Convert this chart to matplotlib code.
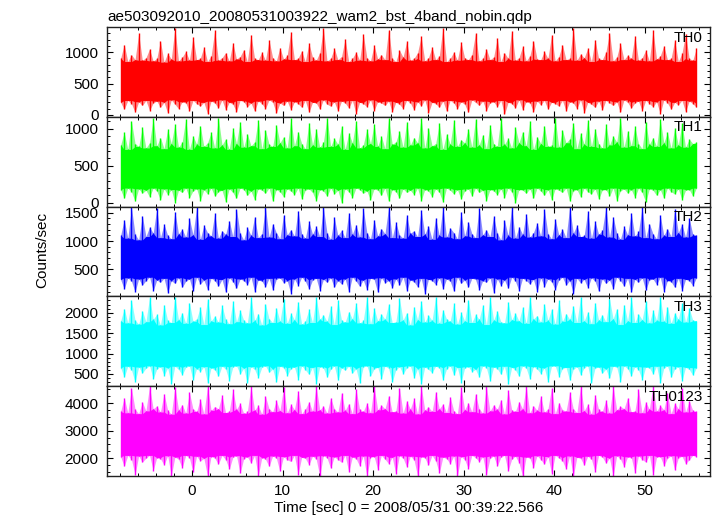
import matplotlib
matplotlib.use("Agg")
import matplotlib.pyplot as plt
import numpy as np
from matplotlib.ticker import MultipleLocator

plt.rcParams['font.family'] = ['Liberation Sans', 'DejaVu Sans']
plt.rcParams['font.size'] = 11

# time span covered by the light curves (sec from 00:39:22.566)
t_start = -7.9
t_stop = 55.7

# upper / lower envelope of each band's count rate (counts/sec)
# in 160 equal time slices
th0_hi = [
    900, 1120, 850, 960, 880, 1300, 870, 910, 1050, 860, 900, 1180, 840, 980, 890, 1390,
    860, 920, 1010, 870, 1240, 880, 900, 1080, 850, 940, 1350, 870, 910, 990, 860, 1150,
    890, 930, 1040, 850, 1280, 900, 880, 1000, 870, 1190, 910, 860, 1070, 890, 950, 1320,
    880, 900, 1020, 850, 1140, 920, 870, 990, 1380, 860, 900, 1060, 880, 930, 1210, 850,
    900, 1000, 870, 1290, 910, 860, 1110, 890, 960, 880, 1360, 900, 850, 1030, 920, 1170,
    870, 900, 990, 1250, 860, 910, 1080, 880, 940, 1390, 850, 900, 1000, 870, 1160, 910,
    880, 960, 1300, 860, 900, 1050, 880, 920, 1220, 850, 990, 900, 1340, 870, 910, 1090,
    860, 940, 1180, 890, 880, 1010, 900, 1270, 860, 930, 1120, 880, 900, 1380, 870, 970,
    910, 1060, 850, 1200, 900, 880, 1000, 1310, 860, 920, 1140, 880, 950, 900, 1260, 870,
    910, 1030, 860, 1350, 890, 940, 1100, 880, 900, 1190, 850, 980, 1290, 900, 870, 1070,
]
th0_lo = [
    200, 90, 230, 180, 40, 210, 150, 230, 70, 190, 220, 120, 200, 30, 240, 170,
    100, 210, 190, 60, 230, 180, 140, 200, 20, 220, 190, 110, 240, 80, 200, 170,
    50, 230, 210, 130, 190, 60, 220, 180, 100, 240, 200, 30, 190, 150, 220, 80,
    210, 180, 120, 230, 40, 200, 190, 90, 240, 170, 140, 210, 60, 220, 190, 110,
    230, 20, 200, 180, 130, 240, 70, 210, 190, 150, 220, 50, 200, 170, 100, 230,
    190, 80, 210, 140, 240, 30, 200, 180, 120, 220, 60, 230, 190, 100, 210, 170,
    40, 240, 200, 150, 220, 70, 190, 210, 130, 230, 10, 200, 180, 110, 240, 80,
    210, 190, 50, 220, 160, 230, 90, 200, 180, 140, 230, 60, 210, 190, 100, 240,
    30, 200, 170, 120, 220, 80, 230, 190, 150, 210, 40, 240, 200, 110, 190, 220,
    70, 230, 180, 130, 210, 20, 240, 190, 90, 200, 160, 230, 50, 220, 180, 120,
]
th1_hi = [
    780, 950, 720, 1100, 800, 760, 1020, 740, 810, 1140, 770, 880, 730, 990, 800, 1060,
    750, 820, 1130, 720, 900, 790, 1040, 760, 810, 950, 740, 1150, 780, 860, 720, 1010,
    800, 1090, 750, 930, 770, 820, 1120, 730, 980, 790, 760, 1050, 810, 890, 740, 1140,
    770, 960, 800, 730, 1080, 780, 1000, 750, 820, 1150, 760, 870, 790, 1030, 720, 940,
    810, 1110, 740, 780, 990, 800, 1060, 760, 900, 730, 1140, 790, 820, 970, 750, 1090,
    780, 880, 810, 1150, 740, 1010, 770, 800, 1070, 720, 930, 790, 1120, 760, 850, 810,
    1000, 750, 1130, 780, 920, 730, 1050, 800, 760, 1150, 790, 870, 740, 1020, 810, 960,
    770, 1100, 720, 890, 800, 1040, 760, 780, 1140, 750, 980, 810, 860, 1080, 730, 940,
    790, 1120, 760, 1000, 800, 740, 1060, 780, 900, 820, 1150, 750, 970, 770, 1030, 800,
    730, 1090, 790, 880, 760, 1130, 810, 950, 740, 1010, 780, 1070, 750, 860, 800, 820,
]
th1_lo = [
    180, 60, 200, 150, 20, 190, 130, 170, 80, 200, 160, 40, 190, 110, 180, 0,
    170, 140, 200, 70, 160, 190, 30, 180, 120, 200, 90, 150, 170, 10, 190, 140,
    60, 200, 180, 100, 160, 40, 190, 170, 130, 200, 20, 180, 150, 80, 190, 160,
    110, 200, 50, 170, 190, 140, 30, 180, 160, 90, 200, 120, 170, 0, 190, 150,
    70, 200, 180, 130, 160, 40, 190, 170, 100, 200, 20, 180, 150, 60, 190, 140,
    170, 110, 200, 30, 180, 160, 80, 190, 140, 10, 200, 170, 120, 180, 50, 160,
    190, 90, 200, 140, 170, 30, 180, 160, 110, 190, 70, 200, 150, 0, 180, 170,
    130, 190, 60, 200, 160, 100, 180, 40, 190, 170, 140, 200, 20, 160, 180, 80,
    200, 150, 120, 190, 50, 170, 180, 90, 200, 30, 160, 190, 130, 180, 70, 200,
    140, 10, 190, 170, 100, 180, 60, 200, 150, 120, 190, 40, 170, 180, 90, 200,
]
th2_hi = [
    1100, 1380, 1050, 1600, 1120, 1020, 1450, 1080, 1250, 1140, 1580, 1060, 1300, 1100, 1040, 1520,
    1130, 1210, 1070, 1400, 1110, 1600, 1030, 1280, 1150, 1090, 1490, 1050, 1180, 1120, 1360, 1080,
    1560, 1140, 1020, 1240, 1100, 1430, 1060, 1130, 1600, 1070, 1310, 1150, 1040, 1470, 1110, 1200,
    1090, 1540, 1130, 1050, 1350, 1120, 1260, 1080, 1600, 1140, 1030, 1420, 1100, 1190, 1060, 1500,
    1120, 1290, 1070, 1580, 1150, 1040, 1380, 1090, 1220, 1130, 1600, 1060, 1330, 1110, 1050, 1460,
    1140, 1180, 1080, 1550, 1120, 1270, 1030, 1410, 1100, 1600, 1070, 1230, 1150, 1040, 1510, 1090,
    1340, 1130, 1060, 1590, 1110, 1200, 1080, 1440, 1140, 1020, 1370, 1100, 1600, 1050, 1250, 1120,
    1480, 1070, 1150, 1320, 1090, 1570, 1130, 1040, 1390, 1110, 1210, 1060, 1600, 1140, 1280, 1080,
    1100, 1530, 1050, 1350, 1120, 1190, 1600, 1070, 1430, 1140, 1030, 1260, 1110, 1500, 1090, 1170,
    1600, 1060, 1310, 1130, 1040, 1460, 1100, 1220, 1080, 1570, 1150, 1300, 1070, 1400, 1120, 1100,
]
th2_lo = [
    320, 150, 350, 290, 100, 330, 220, 300, 360, 120, 310, 270, 340, 80, 300, 250,
    350, 180, 290, 330, 110, 360, 240, 310, 140, 340, 300, 200, 320, 90, 350, 280,
    160, 330, 300, 230, 360, 100, 310, 290, 190, 340, 130, 320, 350, 260, 300, 70,
    330, 210, 360, 290, 150, 310, 340, 120, 320, 270, 350, 180, 300, 240, 330, 100,
    360, 290, 200, 310, 140, 340, 320, 90, 350, 260, 300, 170, 330, 220, 360, 120,
    310, 280, 190, 340, 60, 320, 300, 230, 350, 150, 330, 290, 110, 360, 250, 310,
    180, 340, 320, 130, 300, 270, 350, 80, 330, 210, 310, 160, 360, 290, 120, 340,
    300, 240, 320, 100, 350, 190, 330, 280, 140, 310, 360, 220, 300, 70, 340, 260,
    320, 170, 350, 290, 110, 330, 250, 310, 150, 360, 300, 200, 340, 90, 320, 270,
    350, 130, 310, 330, 230, 360, 100, 300, 280, 180, 340, 120, 320, 300, 210, 350,
]
th3_hi = [
    1800, 2100, 1750, 2300, 1820, 1720, 2050, 1780, 2380, 1840, 1960, 1700, 2200, 1810, 1760, 2390,
    1830, 2000, 1740, 2250, 1790, 1850, 2130, 1710, 2340, 1800, 1920, 1770, 2180, 1840, 1730, 2280,
    1780, 2060, 1820, 1750, 2390, 1810, 1980, 1700, 2220, 1850, 1760, 2120, 1790, 2330, 1740, 1990,
    1830, 2270, 1720, 1800, 2080, 1760, 2390, 1840, 1950, 1790, 2160, 1710, 2300, 1820, 1770, 2030,
    1850, 2240, 1750, 1810, 2390, 1730, 2110, 1800, 1970, 1840, 2210, 1760, 1780, 2350, 1820, 2000,
    1700, 2150, 1830, 2290, 1770, 1940, 1810, 2390, 1740, 2070, 1850, 1790, 2230, 1720, 2010, 1800,
    2320, 1760, 1960, 1840, 2190, 1710, 2380, 1820, 2040, 1780, 1750, 2260, 1830, 1990, 1800, 2140,
    1740, 2390, 1850, 1930, 1770, 2210, 1810, 2090, 1720, 2310, 1790, 1980, 1840, 2170, 1760, 2380,
    1800, 2020, 1730, 2250, 1820, 1950, 1780, 2340, 1850, 2100, 1710, 2200, 1800, 2390, 1760, 1970,
    1830, 2280, 1750, 2060, 1810, 2390, 1790, 2150, 1740, 2000, 1840, 2240, 1770, 2110, 1820, 1800,
]
th3_lo = [
    650, 420, 690, 600, 300, 670, 520, 640, 700, 380, 620, 680, 460, 650, 250, 690,
    610, 480, 660, 700, 350, 630, 560, 680, 280, 650, 600, 440, 690, 620, 330, 670,
    700, 500, 640, 270, 680, 610, 410, 660, 700, 540, 620, 300, 690, 650, 460, 630,
    670, 360, 700, 600, 490, 660, 260, 680, 640, 420, 610, 700, 340, 650, 590, 690,
    520, 630, 280, 670, 700, 450, 620, 660, 380, 690, 640, 300, 600, 680, 500, 650,
    700, 400, 630, 250, 670, 610, 530, 690, 650, 350, 620, 700, 470, 660, 290, 640,
    680, 560, 610, 420, 700, 650, 320, 670, 630, 490, 690, 260, 660, 600, 440, 700,
    640, 370, 680, 620, 510, 650, 300, 690, 700, 430, 630, 660, 340, 610, 680, 480,
    650, 700, 270, 640, 670, 520, 620, 390, 690, 660, 310, 700, 630, 450, 680, 600,
    360, 670, 650, 500, 690, 280, 640, 700, 420, 620, 680, 330, 660, 610, 470, 650,
]
th0123_hi = [
    3700, 4200, 3650, 4550, 3780, 3620, 4050, 3720, 4620, 3800, 3900, 3680, 4350, 3750, 3600, 4600,
    3760, 3950, 3640, 4400, 3790, 3700, 4150, 3610, 4620, 3740, 3880, 3800, 4300, 3660, 3720, 4500,
    3780, 4000, 3630, 3700, 4620, 3750, 3920, 3600, 4250, 3800, 3690, 4100, 3730, 4580, 3650, 3960,
    3770, 4450, 3620, 3790, 4050, 3710, 4620, 3760, 3900, 3640, 4200, 3800, 3680, 4380, 3740, 3990,
    3620, 4520, 3780, 3700, 4000, 3650, 4620, 3760, 3930, 3800, 4280, 3690, 3720, 4560, 3640, 4080,
    3790, 4180, 3610, 4620, 3750, 3870, 3700, 4420, 3800, 3970, 3660, 4230, 3730, 3620, 4600, 3770,
    4010, 3690, 4340, 3800, 3640, 4620, 3720, 3940, 3780, 4130, 3610, 4480, 3760, 3700, 4060, 3800,
    4620, 3650, 3910, 3740, 4260, 3680, 3790, 4570, 3620, 4020, 3770, 3710, 4400, 3800, 3660, 4620,
    3730, 3960, 3600, 4310, 3780, 3700, 4110, 3640, 4620, 3760, 3890, 3800, 4200, 3690, 3720, 4500,
    3650, 4040, 3790, 4620, 3710, 3920, 3760, 4360, 3620, 4000, 3800, 4540, 3680, 4090, 3740, 3700,
]
th0123_lo = [
    2050, 1700, 2100, 1950, 1400, 2080, 1850, 2000, 2100, 1550, 2020, 1980, 1750, 2090, 1350, 2040,
    1960, 1650, 2100, 2010, 1480, 2070, 1900, 1990, 1350, 2060, 2000, 1780, 2100, 1950, 1600, 2030,
    2090, 1450, 1980, 2050, 1820, 2100, 1350, 2020, 1960, 1700, 2080, 2000, 1520, 2060, 1940, 1880,
    2100, 1400, 2030, 1990, 1760, 2070, 1970, 1350, 2090, 2010, 1630, 2050, 1950, 1850, 2100, 1500,
    2040, 1980, 1720, 2080, 1350, 2020, 2060, 1580, 2100, 1960, 1800, 2030, 1420, 2090, 2000, 1680,
    2070, 1950, 1350, 2050, 2010, 1740, 2100, 1900, 1460, 2040, 1980, 1800, 2080, 1350, 2060, 1950,
    1620, 2100, 2020, 1870, 2050, 1400, 1990, 2080, 1710, 2030, 2100, 1540, 1960, 2070, 1830, 1350,
    2040, 2000, 1650, 2090, 1950, 1780, 2060, 1440, 2100, 2010, 1900, 1600, 2080, 1350, 2030, 1990,
    1740, 2070, 1960, 1500, 2100, 2040, 1820, 2000, 1350, 2090, 1970, 1680, 2050, 2020, 1460, 2080,
    1950, 1860, 2100, 1380, 2030, 2060, 1720, 1990, 2090, 1560, 2000, 2070, 1800, 1940, 2100, 2050,
]

bands = ['TH0', 'TH1', 'TH2', 'TH3', 'TH0123']
highs = [th0_hi, th1_hi, th2_hi, th3_hi, th0123_hi]
lows = [th0_lo, th1_lo, th2_lo, th3_lo, th0123_lo]
colors = ['#ff0000', '#00ff00', '#0000ff', '#00ffff', '#ff00ff']
ylims = [(-30, 1400), (-50, 1160), (20, 1610), (200, 2400), (1350, 4620)]
majors = [500, 500, 500, 500, 1000]
minors = [100, 100, 100, 100, 250]

fig, axes = plt.subplots(5, 1, sharex=True, figsize=(7.17, 5.16), dpi=100)
fig.subplots_adjust(left=107/717, right=710/717, top=1-27/516, bottom=1-476/516, hspace=0)

for ax, name, hi, lo, c, yl, mj, mn in zip(axes, bands, highs, lows, colors, ylims, majors, minors):
    hi = np.array(hi, dtype=float)
    lo = np.array(lo, dtype=float)
    t = np.linspace(t_start, t_stop, len(hi))
    # solid core: where neighbouring slices overlap; spikes drawn thin and lighter
    core_hi = np.minimum(hi, np.minimum(np.r_[hi[0], hi[:-1]], np.r_[hi[1:], hi[-1]]))
    core_lo = np.maximum(lo, np.maximum(np.r_[lo[0], lo[:-1]], np.r_[lo[1:], lo[-1]]))
    ax.fill_between(t, lo, hi, color=c, alpha=0.45, lw=0)
    ax.fill_between(t, core_lo, core_hi, color=c, lw=0)
    ax.vlines(t, lo, hi, color=c, lw=1.0)
    ax.set_ylim(yl)
    ax.set_xlim(-9.4, 57.2)
    ax.yaxis.set_major_locator(MultipleLocator(mj))
    ax.yaxis.set_minor_locator(MultipleLocator(mn))
    ax.xaxis.set_major_locator(MultipleLocator(10))
    ax.xaxis.set_minor_locator(MultipleLocator(2))
    ax.tick_params(which='both', direction='in', top=True, right=True, labelsize=11)
    ax.tick_params(which='major', length=4, width=0.8, pad=6)
    ax.tick_params(which='minor', length=2.2, width=0.7)
    for s in ax.spines.values():
        s.set_linewidth(1.0)
        s.set_color('#222222')
    ax.text(0.988, 0.96, name, transform=ax.transAxes, ha='right', va='top', fontsize=11)

axes[0].set_title('ae503092010_20080531003922_wam2_bst_4band_nobin.qdp', loc='left', fontsize=11, pad=4)
axes[-1].set_xlabel('Time [sec] 0 = 2008/05/31 00:39:22.566', fontsize=11, labelpad=2)
fig.text(42/717, 1-250/516, 'Counts/sec', rotation=90, ha='center', va='center', fontsize=11)

fig.savefig('out.png', dpi=100)
